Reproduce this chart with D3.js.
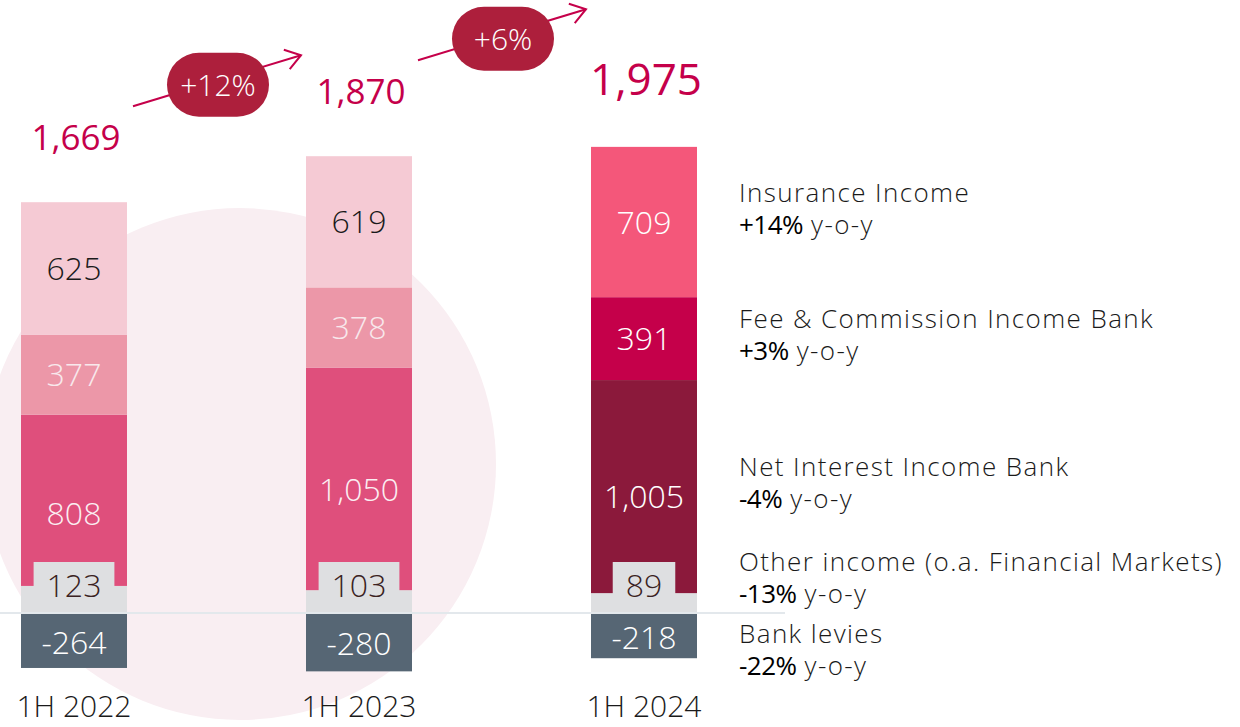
<!DOCTYPE html>
<html>
<head>
<meta charset="utf-8">
<script src="https://cdn.jsdelivr.net/npm/d3@7"></script>
<style>
  body { margin: 0; background: #fff; }
  svg { display: block; font-family: "Open Sans", "Lato", sans-serif; }
</style>
</head>
<body>
<div id="chart"></div>
<script>
// data (EUR m)
var categories = ["1H 2022", "1H 2023", "1H 2024"];
var insurance = [625, 619, 709];
var feeCommission = [377, 378, 391];
var netInterest = [808, 1050, 1005];
var otherIncome = [123, 103, 89];
var bankLevies = [-264, -280, -218];
var totals = [1669, 1870, 1975];
var growthLabels = ["+12%", "+6%"];

var legendNames = ["Insurance Income", "Fee & Commission Income Bank", "Net Interest Income Bank",
  "Other income (o.a. Financial Markets)", "Bank levies"];
var legendChanges = ["+14%", "+3%", "-4%", "-13%", "-22%"];

var svgWidth = 1240;
var svgHeight = 727;
var baseY = 612;
var barWidth = 106;

var svg = d3.select("#chart")
  .append("svg")
  .attr("width", svgWidth)
  .attr("height", svgHeight);

// scales
var x = d3.scalePoint()
  .domain(categories)
  .range([74, 644]);

var y = d3.scaleLinear()
  .domain([0, 1000])
  .range([baseY, baseY - 212]);

// colours: last period is highlighted in stronger shades
var colors = {
  insurance: ["#f5cad4", "#f5cad4", "#f4577a"],
  fee: ["#ec97a8", "#ec97a8", "#c5004a"],
  nii: ["#df4f7c", "#df4f7c", "#8b193b"],
  other: ["#dedfe1", "#dedfe1", "#dedfe1"]
};
var labelColors = {
  insurance: ["#1a1a1a", "#1a1a1a", "#ffffff"],
  fee: ["#f8e8ec", "#f8e8ec", "#ffffff"],
  nii: ["#fbeef2", "#fbeef2", "#ffffff"],
  other: ["#3a2222", "#3a2222", "#3a2222"]
};

// background blob
svg.append("circle")
  .attr("cx", 240)
  .attr("cy", 464)
  .attr("r", 256)
  .attr("fill", "#f9eef2");

var rows = categories.map(function(c, i) {
  return {
    cat: c,
    other: otherIncome[i],
    nii: netInterest[i],
    fee: feeCommission[i],
    insurance: insurance[i]
  };
});

var keys = ["other", "nii", "fee", "insurance"];
var series = d3.stack().keys(keys)(rows);

var barsGroup = svg.append("g");

series.forEach(function(s) {
  barsGroup.selectAll(".seg-" + s.key)
    .data(s)
    .enter()
    .append("rect")
    .attr("class", "seg-" + s.key)
    .attr("x", d => x(d.data.cat) - barWidth / 2)
    .attr("y", d => y(d[1]))
    .attr("width", barWidth)
    .attr("height", d => y(d[0]) - y(d[1]))
    .attr("fill", (d, i) => colors[s.key][i]);
});

// bank levies below zero
barsGroup.selectAll(".levy")
  .data(bankLevies)
  .enter()
  .append("rect")
  .attr("class", "levy")
  .attr("x", (d, i) => x(categories[i]) - barWidth / 2)
  .attr("y", y(0) + 2)
  .attr("width", barWidth)
  .attr("height", d => y(d) - y(0) - 2)
  .attr("fill", "#566674");

// zero line
svg.append("line")
  .attr("x1", 0)
  .attr("x2", 785)
  .attr("y1", y(0) + 1)
  .attr("y2", y(0) + 1)
  .attr("stroke", "#e3e8ec")
  .attr("stroke-width", 2);

// segment labels
var labelFont = 32;
series.forEach(function(s) {
  if (s.key === "other") return;
  svg.selectAll(".lab-" + s.key)
    .data(s)
    .enter()
    .append("text")
    .attr("class", "lab-" + s.key)
    .attr("x", d => x(d.data.cat))
    // NII label is centred between its top and the zero line (the grey tab sits on it)
    .attr("y", d => s.key === "nii" ? (y(d[1]) + y(0)) / 2 : (y(d[0]) + y(d[1])) / 2)
    .attr("dy", "0.36em")
    .attr("text-anchor", "middle")
    .attr("font-size", labelFont)
    .attr("font-weight", 300)
    .attr("fill", (d, i) => labelColors[s.key][i])
    .text(d => d3.format(",")(d.data[s.key]));
});

// other income: grey tab with label
var otherGroup = svg.selectAll(".other-tab")
  .data(otherIncome)
  .enter()
  .append("g")
  .attr("class", "other-tab");

otherGroup.append("text")
  .attr("x", (d, i) => x(categories[i]))
  .attr("y", y(0) - 15)
  .attr("text-anchor", "middle")
  .attr("font-size", labelFont)
  .attr("font-weight", 300)
  .attr("fill", "#3a2222")
  .text(d => d);

otherGroup.insert("rect", "text")
  .each(function(d, i) {
    var w = this.parentNode.querySelector("text").getComputedTextLength() + 26;
    d3.select(this)
      .attr("x", x(categories[i]) - w / 2)
      .attr("y", y(0) - 50)
      .attr("width", w)
      .attr("height", 50)
      .attr("fill", "#dedfe1");
  });

svg.selectAll(".levy-label")
  .data(bankLevies)
  .enter()
  .append("text")
  .attr("class", "levy-label")
  .attr("x", (d, i) => x(categories[i]))
  .attr("y", d => (y(0) + y(d)) / 2 + 2)
  .attr("dy", "0.36em")
  .attr("text-anchor", "middle")
  .attr("font-size", labelFont)
  .attr("font-weight", 300)
  .attr("fill", "#ffffff")
  .text(d => d);

// category labels
svg.selectAll(".cat-label")
  .data(categories)
  .enter()
  .append("text")
  .attr("class", "cat-label")
  .attr("x", d => x(d))
  .attr("y", 717)
  .attr("text-anchor", "middle")
  .attr("font-size", 30)
  .attr("font-weight", 300)
  .attr("fill", "#1a1a1a")
  .text(d => d);

// totals above the bars
var stackTops = rows.map(r => r.other + r.nii + r.fee + r.insurance);
var totalY = stackTops.map(v => y(v) - 52);

svg.selectAll(".total")
  .data(totals)
  .enter()
  .append("text")
  .attr("class", "total")
  .attr("x", (d, i) => x(categories[i]) + 2)
  .attr("y", (d, i) => totalY[i])
  .attr("text-anchor", "middle")
  .attr("font-size", (d, i) => i === totals.length - 1 ? 44 : 35)
  .attr("font-weight", (d, i) => i === totals.length - 1 ? 500 : 400)
  .attr("fill", "#c5004a")
  .text(d => d3.format(",")(d));

// growth arrows with pills
var growth = svg.selectAll(".growth")
  .data(growthLabels)
  .enter()
  .append("g")
  .attr("class", "growth");

growth.each(function(label, i) {
  var g = d3.select(this);
  var x1 = x(categories[i]) + 59;
  var y1 = totalY[i] - 44;
  var x2 = x(categories[i + 1]) - 58;
  var y2 = y1 - 51;

  g.append("line")
    .attr("x1", x1).attr("y1", y1)
    .attr("x2", x2).attr("y2", y2)
    .attr("stroke", "#c5004a")
    .attr("stroke-width", 2);

  // arrow head
  var ang = Math.atan2(y2 - y1, x2 - x1);
  var len = 18, spread = 0.6;
  g.append("path")
    .attr("d", "M" + (x2 - len * Math.cos(ang - spread)) + "," + (y2 - len * Math.sin(ang - spread)) +
      "L" + x2 + "," + y2 +
      "L" + (x2 - len * Math.cos(ang + spread)) + "," + (y2 - len * Math.sin(ang + spread)))
    .attr("fill", "none")
    .attr("stroke", "#c5004a")
    .attr("stroke-width", 2);

  var cx = (x1 + x2) / 2 + 1;
  var cy = (y1 + y2) / 2 + 4;
  g.append("rect")
    .attr("x", cx - 51)
    .attr("y", cy - 32)
    .attr("width", 102)
    .attr("height", 64)
    .attr("rx", 32)
    .attr("fill", "#ad1f3c");

  g.append("text")
    .attr("x", cx)
    .attr("y", cy)
    .attr("dy", "0.36em")
    .attr("text-anchor", "middle")
    .attr("font-size", 30)
    .attr("font-weight", 300)
    .attr("fill", "#ffffff")
    .text(label);
});

// legend on the right
var legendBaselines = [202, 328, 476, 571, 643];
var legend = svg.selectAll(".legend")
  .data(legendNames)
  .enter()
  .append("g")
  .attr("class", "legend")
  .attr("transform", (d, i) => `translate(739, ${legendBaselines[i]})`);

legend.append("text")
  .attr("font-size", 26)
  .attr("font-weight", 300)
  .attr("letter-spacing", 1.4)
  .attr("fill", "#1a1a1a")
  .text(d => d);

var changeVal = legend.append("text")
  .attr("class", "chg")
  .attr("y", 32)
  .attr("font-size", 26)
  .attr("font-weight", 500)
  .attr("letter-spacing", -0.5)
  .attr("fill", "#000")
  .text((d, i) => legendChanges[i]);

legend.append("text")
  .attr("x", function() {
    return this.parentNode.querySelector(".chg").getComputedTextLength() + 8;
  })
  .attr("y", 32)
  .attr("font-size", 26)
  .attr("font-weight", 300)
  .attr("letter-spacing", 1.4)
  .attr("fill", "#1a1a1a")
  .text("y-o-y");
</script>
</body>
</html>
